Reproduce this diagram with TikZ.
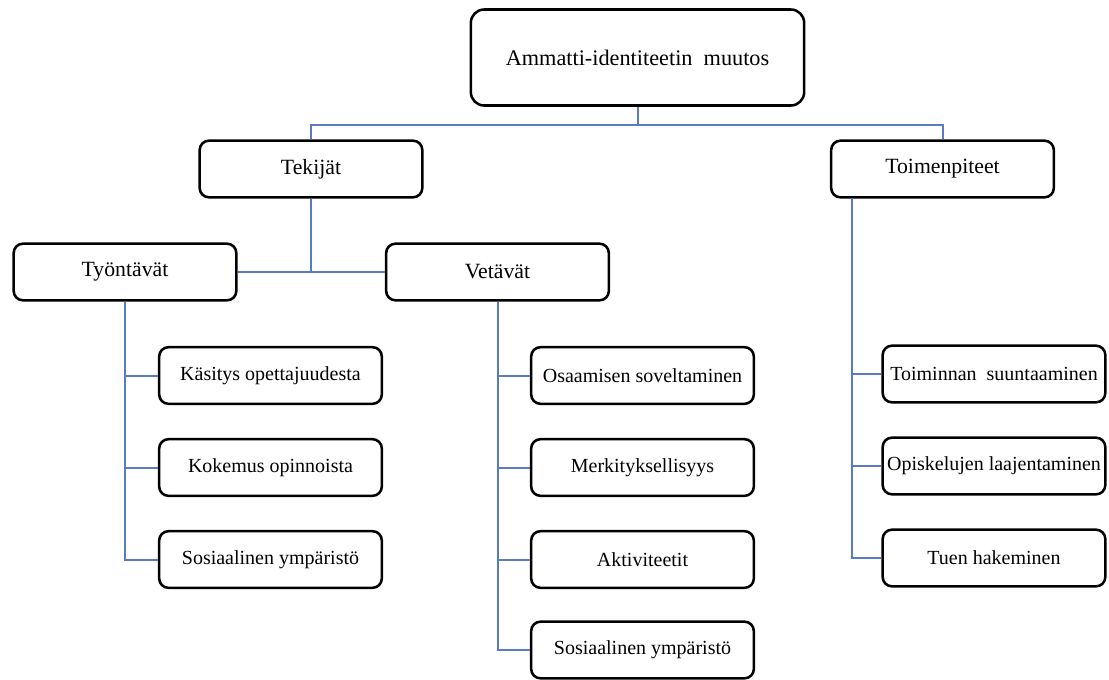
\documentclass[tikz,border=0pt]{standalone}
\usepackage{fontspec}
\setmainfont{Liberation Serif}
\definecolor{linkblue}{RGB}{90,122,194}
\begin{document}
\begin{tikzpicture}[x=0.75pt,y=-0.75pt]

      \useasboundingbox (0,0) rectangle (1109,679);

      \tikzset{box/.style={draw,line width=1.9pt,rounded corners=7pt,fill=white,
          inner sep=0pt},
        leaf/.style={box,minimum width=167pt,minimum height=42.5pt,font=\fontsize{15}{18}\selectfont},
        mid/.style={box,minimum width=167pt,minimum height=42.5pt,font=\fontsize{16.3}{19}\selectfont}}

      \begin{scope}
        \node[box,minimum width=250pt,minimum height=72pt,rounded corners=10pt,
          font=\fontsize{16.7}{20}\selectfont] (top) at (637.5,57.5) {Ammatti-identiteetin\ \ muutos};
        \node[mid]  (tek)  at (311,169)   {Tekijät};
        \node[mid]  (toim) at (942.5,169) {Toimenpiteet};
        \node[mid]  (tyo)  at (125,272)   {Työntävät};
        \node[mid]  (vet)  at (497.5,272) {Vetävät};
        \node[leaf] (k1)   at (270.5,375.5) {Käsitys opettajuudesta};
        \node[leaf] (k2)   at (270.5,467.5) {Kokemus opinnoista};
        \node[leaf] (k3)   at (270.5,559.5) {Sosiaalinen ympäristö};
        \node[leaf] (v1)   at (642.5,375.5) {Osaamisen soveltaminen};
        \node[leaf] (v2)   at (642.5,467.5) {Merkityksellisyys};
        \node[leaf] (v3)   at (642.5,559.5) {Aktiviteetit};
        \node[leaf] (v4)   at (642.5,650) {Sosiaalinen ympäristö};
        \node[leaf] (t1)   at (994,374)   {Toiminnan\ \ suuntaaminen};
        \node[leaf] (t2)   at (994,466)   {Opiskelujen\ laajentaminen};
        \node[leaf] (t3)   at (994,558)   {Tuen hakeminen};
      \end{scope}

      \coordinate (bus) at (637.5,124.5);
      \coordinate (tdrop) at (852,198);

      \begin{scope}[linkblue,line width=1.5pt]
        \draw (top) -- (bus);
        \draw (bus) -| (tek);
        \draw (bus) -| (toim);
        \draw (tek) |- (tyo);
        \draw (tek) |- (vet);
        \foreach \n in {k1,k2,k3}
          \draw (tyo) |- (\n);
        \foreach \n in {v1,v2,v3,v4}
          \draw (vet) |- (\n);
        \foreach \n in {t1,t2,t3}
          \draw (tdrop) |- (\n);
      \end{scope}

    \end{tikzpicture}
\end{document}
